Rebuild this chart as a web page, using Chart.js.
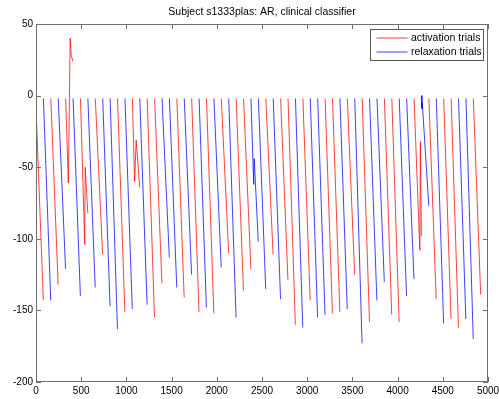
<!DOCTYPE html>
<html>
<head>
<meta charset="utf-8">
<script src="https://cdn.jsdelivr.net/npm/chart.js@4.4.0/dist/chart.umd.min.js"></script>
<style>
  html, body { margin: 0; padding: 0; background: #fff; }
  canvas { display: block; }
</style>
</head>
<body>
<canvas id="arChart" width="499" height="399"></canvas>
<script>
// one entry per trial, in plotting order. A = activation (red), R = relaxation (blue)
const trialType = [
  'A','R','A','R','A','R','A','R','A','R',
  'R','A','R','A','R','A','A','R','R','A',
  'R','A','R','A','R','A','R','A','A','R',
  'R','A','R','A','A','R','A','R','R','A',
  'A','R','A','R','A','R','R','A','A','R',
  'R','A','R','A','R','A','A','R','R','A'
];
// first sample of each trial
const trialStart = [
  0, 82, 164, 246, 328, 410, 492, 574, 656, 738,
  820, 902, 984, 1066, 1148, 1230, 1312, 1394, 1476, 1558,
  1640, 1722, 1804, 1886, 1968, 2050, 2132, 2214, 2296, 2378,
  2460, 2542, 2624, 2706, 2788, 2870, 2952, 3034, 3116, 3198,
  3280, 3362, 3444, 3526, 3608, 3690, 3772, 3854, 3936, 4018,
  4100, 4182, 4264, 4346, 4428, 4510, 4592, 4674, 4756, 4838
];
const trialLen = 82;
// classifier output at the first and last sample of each trial
const trialFirst = [
  -8, -2, -2, -2, -2, -2, -2, -2, -2, -2,
  -2, -2, -2, -2, -2, -2, -2, -2, -2, -2,
  -2, -2, -2, -2, -2, -2, -2, -2, -2, -2,
  -2, -2, -2, -2, -2, -2, -2, -2, -2, -2,
  -2, -2, -2, -2, -2, -2, -2, -2, -2, -2,
  -2, -2, 0, -2, -2, -2, -2, -2, -2, -2
];
const trialLast = [
  -143, -143, -132, -121, 24, -140, -82, -134, -111, -147,
  -163, -151, -149, -64, -146, -155, -131, -113, -134, -141,
  -125, -151, -148, -152, -120, -110, -155, -136, -121, -102,
  -135, -111, -142, -129, -160, -162, -143, -155, -153, -152,
  -151, -149, -125, -173, -158, -143, -130, -153, -158, -140,
  -128, -98, -77, -142, -159, -156, -162, -156, -170, -139
];
// jumps inside a trial: trial number, sample offset in the trial, value
const kinkTrial  = [5, 5, 5, 7, 7, 14, 14, 30, 30, 52, 52, 53, 53];
const kinkOffset = [30, 50, 62, 47, 52, 25, 42, 30, 36, 64, 70, 5, 9];
const kinkValue  = [-61, 40, 28, -104, -50, -60, -31, -62, -44, -108, -32, -9, -5];

const xTickVals = [0, 500, 1000, 1500, 2000, 2500, 3000, 3500, 4000, 4500, 5000];
const yTickVals = [-200, -150, -100, -50, 0, 50];

const titleText = 'Subject s1333plas: AR, clinical classifier';
const FONT = '"Liberation Sans", Arial, Helvetica, sans-serif';

function buildSeries(kind) {
  const pts = [];
  trialType.forEach((t, i) => {
    if (t !== kind) return;
    const s = trialStart[i];
    pts.push({ x: s, y: trialFirst[i] });
    kinkTrial.forEach((k, j) => {
      if (k === i + 1) pts.push({ x: s + kinkOffset[j], y: kinkValue[j] });
    });
    pts.push({ x: s + trialLen - 1, y: trialLast[i] });
    pts.push({ x: s + trialLen - 0.5, y: null }); // break between trials
  });
  return pts;
}

// matlab style box, inward ticks, title and legend
const matlabFrame = {
  id: 'matlabFrame',
  afterDraw(chart) {
    const { ctx, chartArea: a, scales: { x, y } } = chart;
    ctx.save();
    ctx.strokeStyle = '#6e6e6e';
    ctx.lineWidth = 1;
    ctx.beginPath();
    ctx.rect(a.left + 0.5, a.top + 0.5, a.right - a.left - 1, a.bottom - a.top - 1);
    xTickVals.forEach(v => {
      const px = Math.round(x.getPixelForValue(v)) + 0.5;
      ctx.moveTo(px, a.bottom); ctx.lineTo(px, a.bottom - 5);
      ctx.moveTo(px, a.top); ctx.lineTo(px, a.top + 5);
    });
    yTickVals.forEach(v => {
      const py = Math.round(y.getPixelForValue(v)) + 0.5;
      ctx.moveTo(a.left, py); ctx.lineTo(a.left + 5, py);
      ctx.moveTo(a.right, py); ctx.lineTo(a.right - 5, py);
    });
    ctx.stroke();

    // title
    ctx.fillStyle = '#000';
    ctx.font = '10.5px ' + FONT;
    ctx.textAlign = 'center';
    ctx.textBaseline = 'middle';
    ctx.fillText(titleText, (a.left + a.right) / 2, 12.5);

    // legend box
    const bx = a.right - 117.5, by = a.top + 5.5;
    ctx.fillStyle = '#fff';
    ctx.fillRect(bx, by, 113, 31);
    ctx.strokeStyle = '#555';
    ctx.strokeRect(bx, by, 113, 31);
    chart.data.datasets.forEach((ds, i) => {
      const ly = a.top + 14 + i * 14;
      ctx.strokeStyle = ds.borderColor;
      ctx.beginPath();
      ctx.moveTo(bx + 6, ly);
      ctx.lineTo(bx + 37, ly);
      ctx.stroke();
      ctx.fillStyle = '#000';
      ctx.textAlign = 'left';
      ctx.fillText(ds.label, bx + 40.5, ly + 0.5);
    });
    ctx.restore();
  }
};

new Chart(document.getElementById('arChart'), {
  type: 'line',
  data: {
    datasets: [
      {
        label: 'activation trials',
        data: buildSeries('A'),
        borderColor: 'rgba(255, 0, 0, 0.75)',
        borderWidth: 1,
        pointRadius: 0,
        tension: 0,
        spanGaps: false
      },
      {
        label: 'relaxation trials',
        data: buildSeries('R'),
        borderColor: 'rgba(0, 0, 255, 0.75)',
        borderWidth: 1,
        pointRadius: 0,
        tension: 0,
        spanGaps: false
      }
    ]
  },
  options: {
    responsive: false,
    animation: false,
    devicePixelRatio: 1,
    layout: { padding: { top: 24, right: 11, left: 0, bottom: 0 } },
    plugins: {
      legend: { display: false },
      title: { display: false },
      tooltip: { enabled: false }
    },
    scales: {
      x: {
        type: 'linear',
        min: 0,
        max: 5000,
        grid: { display: false, drawTicks: false },
        border: { display: false },
        afterBuildTicks: s => { s.ticks = xTickVals.map(v => ({ value: v })); },
        afterFit: s => { s.height = 17; s.paddingLeft = 0; s.paddingRight = 0; },
        ticks: {
          padding: 3,
          color: '#000',
          maxRotation: 0,
          autoSkip: false,
          font: { family: FONT, size: 10 },
          callback: v => String(v)
        }
      },
      y: {
        type: 'linear',
        min: -200,
        max: 50,
        grid: { display: false, drawTicks: false },
        border: { display: false },
        afterBuildTicks: s => { s.ticks = yTickVals.map(v => ({ value: v })); },
        afterFit: s => { s.width = 36; s.paddingTop = 0; s.paddingBottom = 0; },
        ticks: {
          padding: 3,
          color: '#000',
          autoSkip: false,
          font: { family: FONT, size: 10 },
          callback: v => String(v)
        }
      }
    }
  },
  plugins: [matlabFrame]
});
</script>
</body>
</html>
